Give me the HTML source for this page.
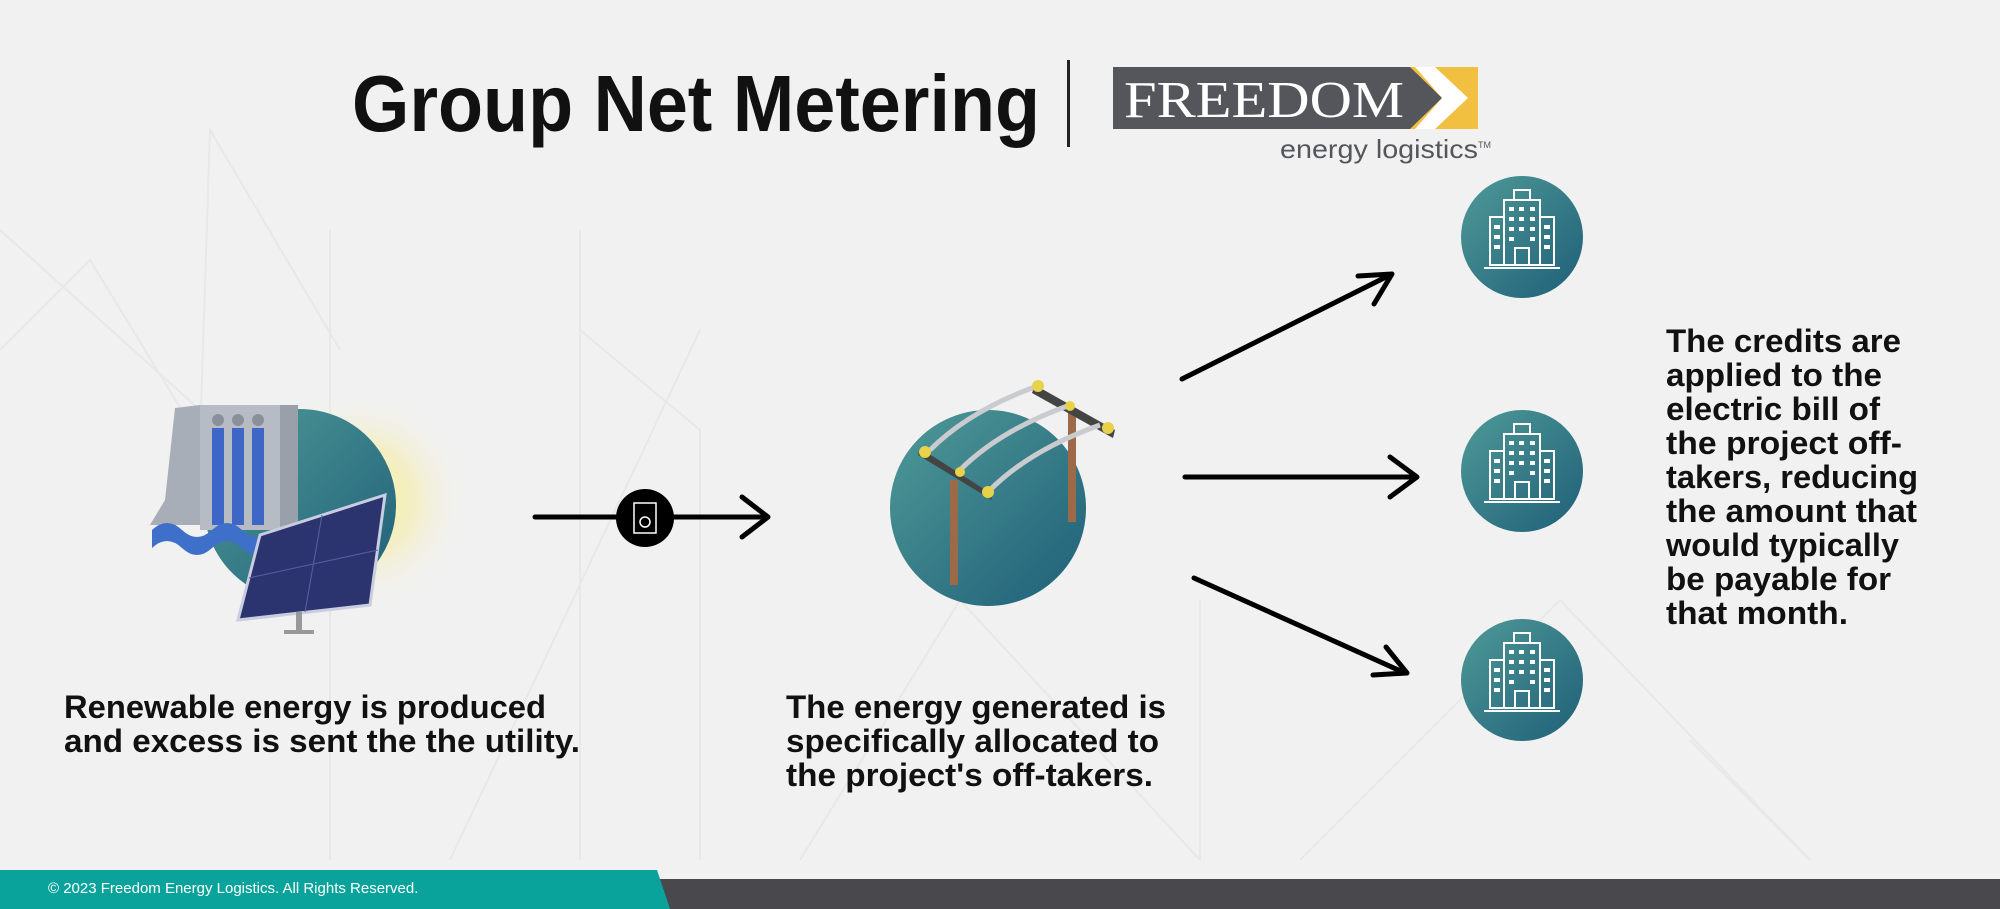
<!DOCTYPE html>
<html><head><meta charset="utf-8"><style>
html,body{margin:0;padding:0;background:#f1f1f1;}
svg{display:block}
</style></head><body>
<svg width="2000" height="909" viewBox="0 0 2000 909" xmlns="http://www.w3.org/2000/svg" font-family="Liberation Sans,Arial,sans-serif">
<defs>
<linearGradient id="tg" x1="0" y1="0" x2="1" y2="1"><stop offset="0" stop-color="#4f9a98"/><stop offset="1" stop-color="#1f5f78"/></linearGradient>
<radialGradient id="sun" cx="0.5" cy="0.5" r="0.5"><stop offset="0" stop-color="#fff59a" stop-opacity="0.95"/><stop offset="0.5" stop-color="#f6ec9a" stop-opacity="0.5"/><stop offset="1" stop-color="#f1f1f1" stop-opacity="0"/></radialGradient>
</defs>
<rect width="2000" height="909" fill="#f1f1f1"/>
<g stroke="#e8e8e8" stroke-width="2" fill="none">
<polyline points="0,350 90,260 200,440 210,130 340,350"/>
<polyline points="330,230 330,860"/>
<polyline points="580,230 580,860"/>
<polyline points="580,330 700,430 700,860"/>
<polyline points="450,860 700,330"/>
<polyline points="800,860 960,600 1200,860"/>
<polyline points="1200,600 1200,860"/>
<polyline points="1300,860 1560,600 1810,860"/>
<polyline points="1690,740 1810,860"/>
<polyline points="0,230 300,500"/>
</g>
<text x="352" y="131" font-size="80" font-weight="bold" fill="#111" textLength="688" lengthAdjust="spacingAndGlyphs">Group Net Metering</text>
<rect x="1067" y="60" width="3" height="87" fill="#222"/>
<rect x="1113" y="67" width="365" height="62" fill="#f1c040"/>
<polygon points="1113,67 1410,67 1442,98 1410,129 1113,129" fill="#55565b"/>
<polygon points="1415,67 1435,67 1468,98 1435,129 1415,129 1442,98" fill="#fff"/>
<text x="1124" y="117" style="font-family:'Liberation Serif',serif" font-size="52" fill="#fff" textLength="280" lengthAdjust="spacingAndGlyphs">FREEDOM</text>
<text x="1280" y="158" font-size="26" fill="#55565b" textLength="198" lengthAdjust="spacingAndGlyphs">energy logistics</text>
<text x="1478" y="148" font-size="9" fill="#55565b">TM</text>
<circle cx="360" cy="500" r="110" fill="url(#sun)"/>
<circle cx="300" cy="505" r="96" fill="url(#tg)"/>
<polygon points="175,408 200,405 200,525 150,525 165,500" fill="#a8aeb8"/>
<polygon points="200,405 295,405 295,530 200,530" fill="#b7bcc4"/>
<circle cx="218" cy="420" r="6" fill="#8a909a"/><circle cx="238" cy="420" r="6" fill="#8a909a"/><circle cx="258" cy="420" r="6" fill="#8a909a"/>
<rect x="212" y="428" width="12" height="97" fill="#3e66c6"/>
<rect x="232" y="428" width="12" height="97" fill="#3e66c6"/>
<rect x="252" y="428" width="12" height="97" fill="#3e66c6"/>
<rect x="280" y="405" width="18" height="125" fill="#9aa0aa"/>
<path d="M152,530 q15,-14 30,0 q15,14 30,0 q15,-14 30,0 q15,14 30,0 l0,18 q-15,14 -30,0 q-15,-14 -30,0 q-15,14 -30,0 q-15,-14 -30,0z" fill="#3e6fc9"/>
<polygon points="260,535 385,495 370,605 238,620" fill="#2c3470" stroke="#c8cde0" stroke-width="3"/>
<g stroke="#5860a0" stroke-width="1"><line x1="322" y1="515" x2="305" y2="612"/><line x1="249" y1="578" x2="378" y2="550"/></g>
<rect x="296" y="612" width="6" height="20" fill="#999"/><rect x="284" y="630" width="30" height="4" fill="#999"/>
<g stroke="#000" stroke-width="5" fill="none" stroke-linecap="round" stroke-linejoin="round">
<line x1="535" y1="517" x2="766" y2="517"/><polyline points="742,497 768,517 742,537"/>
</g>
<circle cx="645" cy="518" r="29" fill="#000"/>
<rect x="634" y="503" width="22" height="30" fill="none" stroke="#fff" stroke-width="1.5"/>
<circle cx="645" cy="522" r="5" fill="none" stroke="#fff" stroke-width="1.5"/>
<circle cx="988" cy="508" r="98" fill="url(#tg)"/>
<rect x="950" y="480" width="8" height="105" fill="#9c6a48"/>
<rect x="1068" y="410" width="8" height="112" fill="#9c6a48"/>
<polygon points="920,448 990,493 992,500 918,455" fill="#444"/>
<polygon points="1035,385 1115,430 1113,438 1032,393" fill="#444"/>
<g stroke="#c9cbcf" stroke-width="5" fill="none"><path d="M930,450 q40,-40 110,-65"/><path d="M960,470 q40,-40 110,-65"/><path d="M990,490 q40,-40 110,-65"/></g>
<g fill="#e8d24a"><circle cx="925" cy="452" r="6"/><circle cx="988" cy="492" r="6"/><circle cx="1038" cy="386" r="6"/><circle cx="1108" cy="428" r="6"/><circle cx="960" cy="472" r="5"/><circle cx="1070" cy="406" r="5"/></g>
<g stroke="#000" stroke-width="5" fill="none" stroke-linecap="round" stroke-linejoin="round">
<line x1="1182" y1="379" x2="1390" y2="275"/><polyline points="1358,276 1392,274 1374,304"/>
<line x1="1185" y1="477" x2="1415" y2="477"/><polyline points="1390,457 1417,477 1390,497"/>
<line x1="1194" y1="578" x2="1405" y2="673"/><polyline points="1386,647 1407,673 1373,675"/>
</g>
<g id="b">
<circle cx="1522" cy="237" r="61" fill="url(#tg)"/>
<g stroke="#fff" stroke-width="2" fill="none">
<rect x="1490" y="217" width="14" height="48"/><rect x="1540" y="217" width="14" height="48"/>
<rect x="1504" y="200" width="36" height="65"/><rect x="1514" y="190" width="16" height="10"/>
<rect x="1515" y="248" width="14" height="17"/><line x1="1484" y1="268" x2="1560" y2="268"/>
</g>
<g fill="#fff"><rect x="1509" y="207" width="5" height="4"/><rect x="1519" y="207" width="5" height="4"/><rect x="1530" y="207" width="5" height="4"/>
<rect x="1509" y="217" width="5" height="4"/><rect x="1519" y="217" width="5" height="4"/><rect x="1530" y="217" width="5" height="4"/>
<rect x="1509" y="227" width="5" height="4"/><rect x="1519" y="227" width="5" height="4"/><rect x="1530" y="227" width="5" height="4"/>
<rect x="1509" y="237" width="5" height="4"/><rect x="1530" y="237" width="5" height="4"/>
<rect x="1494" y="225" width="6" height="4"/><rect x="1494" y="235" width="6" height="4"/><rect x="1494" y="245" width="6" height="4"/>
<rect x="1544" y="225" width="6" height="4"/><rect x="1544" y="235" width="6" height="4"/><rect x="1544" y="245" width="6" height="4"/></g>
</g>
<use href="#b" y="234"/>
<use href="#b" y="443"/>
<g font-size="32" font-weight="bold" fill="#111">
<text x="64" y="718" textLength="482" lengthAdjust="spacingAndGlyphs">Renewable energy is produced</text>
<text x="64" y="752" textLength="516" lengthAdjust="spacingAndGlyphs">and excess is sent the the utility.</text>
<text x="786" y="718" textLength="380" lengthAdjust="spacingAndGlyphs">The energy generated is</text>
<text x="786" y="752" textLength="373" lengthAdjust="spacingAndGlyphs">specifically allocated to</text>
<text x="786" y="786" textLength="367" lengthAdjust="spacingAndGlyphs">the project's off-takers.</text>
<text x="1666" y="352" textLength="235" lengthAdjust="spacingAndGlyphs">The credits are</text>
<text x="1666" y="386" textLength="216" lengthAdjust="spacingAndGlyphs">applied to the</text>
<text x="1666" y="420" textLength="214" lengthAdjust="spacingAndGlyphs">electric bill of</text>
<text x="1666" y="454" textLength="236" lengthAdjust="spacingAndGlyphs">the project off-</text>
<text x="1666" y="488" textLength="252" lengthAdjust="spacingAndGlyphs">takers, reducing</text>
<text x="1666" y="522" textLength="251" lengthAdjust="spacingAndGlyphs">the amount that</text>
<text x="1666" y="556" textLength="233" lengthAdjust="spacingAndGlyphs">would typically</text>
<text x="1666" y="590" textLength="225" lengthAdjust="spacingAndGlyphs">be payable for</text>
<text x="1666" y="624" textLength="182" lengthAdjust="spacingAndGlyphs">that month.</text>
</g>
<rect x="650" y="879" width="1350" height="30" fill="#48484d"/>
<polygon points="0,870 657,870 670,909 0,909" fill="#0aa39c"/>
<text x="48" y="893" font-size="15" fill="#fff">© 2023 Freedom Energy Logistics. All Rights Reserved.</text>
</svg>
</body></html>
